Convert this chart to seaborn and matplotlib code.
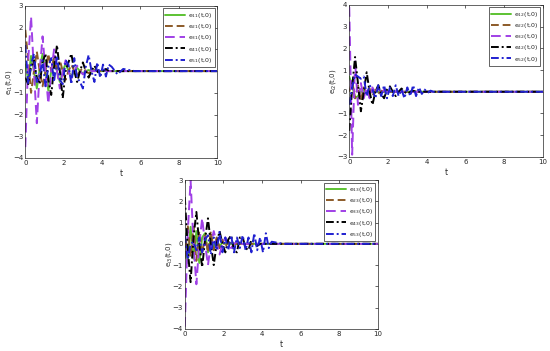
import numpy as np
import pandas as pd
import matplotlib
matplotlib.use("Agg")
import matplotlib.pyplot as plt
import seaborn as sns

# time grid shared by all series (turning points)
T = [0.0, 0.15, 0.3, 0.45, 0.6, 0.75, 0.9, 1.05, 1.2, 1.35,
     1.5, 1.65, 1.8, 1.95, 2.1, 2.25, 2.4, 2.55, 2.7, 2.85,
     3.0, 3.15, 3.3, 3.45, 3.6, 3.75, 3.9, 4.05, 4.2, 4.35,
     4.5, 4.8, 5.1, 5.4, 5.7, 6.0, 10.0]

# panel 1: e_i1(t,0)
e11 = [0.3, -0.4, 0.7, 0.0, -0.8, 0.1, 0.8, 0.0, -0.9, 0.0,
       0.6, 0.0, -0.5, 0.0, 0.35, 0.0, -0.25, 0.0, 0.15, 0.0,
       -0.1, 0.0, 0.05, 0.0, 0.0, 0.0, 0.0, 0.0, 0.0, 0.0,
       0.0, 0.0, 0.0, 0.0, 0.0, 0.0, 0.0]
e21 = [1.9, 0.5, -1.0, 0.0, 0.9, 0.0, -0.7, 0.0, 0.8, 0.0,
       0.65, 0.0, 0.5, 0.0, -0.4, 0.0, 0.3, 0.0, -0.2, 0.0,
       0.15, 0.0, -0.1, 0.0, 0.05, 0.0, 0.0, 0.0, 0.0, 0.0,
       0.0, 0.0, 0.0, 0.0, 0.0, 0.0, 0.0]
e31 = [-3.5, 0.5, 2.5, 0.0, -2.4, 0.0, 1.6, 0.0, -1.5, 0.0,
       1.0, 0.0, -0.8, 0.0, 0.5, 0.0, -0.35, 0.0, 0.25, 0.0,
       -0.15, 0.0, 0.1, 0.0, 0.0, 0.0, 0.0, 0.0, 0.0, 0.0,
       0.0, 0.0, 0.0, 0.0, 0.0, 0.0, 0.0]
e41 = [-0.3, -0.6, 0.2, 0.5, -0.3, -0.6, 0.4, 0.8, -0.4, -1.1,
       0.2, 1.2, 0.0, -1.25, 0.0, 0.4, 0.8, 0.0, -0.5, 0.0,
       0.4, 0.0, -0.3, 0.0, 0.25, 0.0, -0.2, 0.0, 0.1, 0.0,
       0.0, 0.0, 0.0, 0.0, 0.0, 0.0, 0.0]
e51 = [1.2, -0.6, 0.3, 0.8, -0.5, -0.2, 0.5, -0.7, 0.2, 0.6,
       -0.5, 0.7, -0.4, -0.6, 0.5, 0.3, -0.6, 0.6, -0.3, -0.5,
       -0.8, 0.2, 0.74, 0.0, -0.5, 0.4, -0.3, 0.3, -0.25, 0.3,
       0.2, -0.15, 0.1, 0.05, 0.0, 0.0, 0.0]

# panel 2: e_i2(t,0)
e12 = [0.7, 0.3, -0.3, -0.2, 0.0, 0.05, 0.0, 0.0, 0.0, 0.0,
       0.0, 0.0, 0.0, 0.0, 0.0, 0.0, 0.0, 0.0, 0.0, 0.0,
       0.0, 0.0, 0.0, 0.0, 0.0, 0.0, 0.0, 0.0, 0.0, 0.0,
       0.0, 0.0, 0.0, 0.0, 0.0, 0.0, 0.0]
e22 = [0.0, 0.5, -0.3, 0.3, -0.4, 0.2, -0.1, 0.15, -0.2, 0.1,
       -0.1, 0.05, 0.0, 0.0, 0.0, 0.0, 0.0, 0.0, 0.0, 0.0,
       0.0, 0.0, 0.0, 0.0, 0.0, 0.0, 0.0, 0.0, 0.0, 0.0,
       0.0, 0.0, 0.0, 0.0, 0.0, 0.0, 0.0]
e32 = [3.9, -2.9, 1.4, -0.6, 0.4, -0.3, 0.2, -0.3, 0.2, -0.1,
       0.2, -0.1, 0.1, 0.0, 0.0, 0.0, 0.0, 0.0, 0.0, 0.0,
       0.0, 0.0, 0.0, 0.0, 0.0, 0.0, 0.0, 0.0, 0.0, 0.0,
       0.0, 0.0, 0.0, 0.0, 0.0, 0.0, 0.0]
e42 = [-1.8, 0.2, 1.6, 0.4, -0.9, 0.0, 0.9, 0.0, -0.6, 0.0,
       0.3, -0.1, -0.3, 0.1, 0.25, 0.0, -0.2, 0.0, 0.15, 0.0,
       -0.1, 0.0, 0.05, 0.0, 0.0, 0.0, 0.0, 0.0, 0.0, 0.0,
       0.0, 0.0, 0.0, 0.0, 0.0, 0.0, 0.0]
e52 = [-0.6, 0.2, 0.8, 0.7, 0.6, 0.7, -0.2, 0.3, 0.1, -0.3,
       0.3, -0.2, 0.3, -0.3, 0.2, -0.2, 0.3, -0.2, 0.1, -0.3,
       0.2, -0.2, 0.3, -0.2, 0.2, -0.1, 0.1, -0.05, 0.05, 0.0,
       0.0, 0.0, 0.0, 0.0, 0.0, 0.0, 0.0]

# panel 3: e_i3(t,0)
e13 = [0.5, -0.9, 0.8, -0.7, 0.6, -0.9, 0.3, 0.5, -0.4, 0.3,
       -0.2, 0.15, -0.1, 0.05, 0.0, 0.0, 0.0, 0.0, 0.0, 0.0,
       0.0, 0.0, 0.0, 0.0, 0.0, 0.0, 0.0, 0.0, 0.0, 0.0,
       0.0, 0.0, 0.0, 0.0, 0.0, 0.0, 0.0]
e23 = [-0.7, 0.9, -0.6, 0.8, -0.8, 0.6, -0.5, 0.4, -0.4, 0.6,
       -0.3, 0.3, -0.2, 0.2, -0.15, 0.1, 0.0, 0.0, 0.0, 0.0,
       0.0, 0.0, 0.0, 0.0, 0.0, 0.0, 0.0, 0.0, 0.0, 0.0,
       0.0, 0.0, 0.0, 0.0, 0.0, 0.0, 0.0]
e33 = [-3.9, 0.5, 3.0, 0.0, -1.9, 0.0, 1.2, 0.0, -1.0, 0.0,
       0.6, 0.0, -0.5, 0.0, 0.3, 0.0, -0.2, 0.0, 0.1, 0.0,
       0.0, 0.0, 0.0, 0.0, 0.0, 0.0, 0.0, 0.0, 0.0, 0.0,
       0.0, 0.0, 0.0, 0.0, 0.0, 0.0, 0.0]
e43 = [2.2, -0.2, -1.8, 0.3, 1.5, 0.0, -1.1, 0.2, 1.2, 0.0,
       -1.0, 0.0, 0.6, 0.0, -0.4, 0.2, 0.4, -0.3, -0.4, 0.3,
       0.3, -0.2, -0.3, 0.2, 0.1, -0.1, 0.0, 0.0, 0.0, 0.0,
       0.0, 0.0, 0.0, 0.0, 0.0, 0.0, 0.0]
e53 = [0.4, -0.75, 0.0, 0.1, -0.3, 0.3, -0.4, 0.2, 0.4, -0.5,
       0.3, -0.3, 0.56, -0.4, 0.3, -0.3, 0.4, -0.4, 0.3, -0.2,
       0.4, -0.3, 0.3, -0.4, 0.5, -0.3, 0.3, -0.4, 0.5, -0.2,
       0.1, 0.05, 0.0, 0.0, 0.0, 0.0, 0.0]

COLORS = ["#5cc232", "#8c5a28", "#a040e6", "#000000", "#2020d0"]
STYLES = ["-", (0, (4, 2)), (0, (5, 2.5)), (0, (4, 1.5, 1, 1.5)), (0, (4, 1.5, 1, 1.5))]


def draw_panel(ax, series, j, ylim):
    for i, vals in enumerate(series):
        sns.lineplot(x=T, y=vals, ax=ax, color=COLORS[i], linestyle=STYLES[i],
                     linewidth=1.4, estimator=None, sort=False,
                     label=f"e$_{{{i + 1}{j}}}$(t,0)")
    ax.set_xlim(0, 10)
    ax.set_ylim(*ylim)
    ax.set_xticks(range(0, 11, 2))
    ax.set_yticks(range(ylim[0], ylim[1] + 1))
    ax.set_xlabel("t", fontsize=5.5)
    ax.set_ylabel(f"e$_{{i{j}}}$(t,0)", fontsize=5)
    ax.xaxis.set_label_coords(0.5, -0.075)
    ax.yaxis.set_label_coords(-0.058, 0.5)
    ax.tick_params(direction="in", length=2.5, width=0.5, labelsize=5,
                   top=True, right=True, pad=1.5, colors="#262626")
    for sp in ax.spines.values():
        sp.set_visible(True)
        sp.set_linewidth(0.5)
        sp.set_color("#262626")
    leg = ax.legend(loc="upper right", fontsize=4.5, handlelength=3.2,
                    handletextpad=0.4, labelspacing=0.35, borderpad=0.4,
                    fancybox=False, framealpha=1, borderaxespad=0.4)
    leg.get_frame().set_edgecolor("#262626")
    leg.get_frame().set_linewidth(0.5)


sns.set_style("white")
plt.rcParams["font.family"] = ["DejaVu Sans"]

fig = plt.figure(figsize=(5.5, 3.51), dpi=100)
ax1 = fig.add_axes([0.046, 0.550, 0.349, 0.433])
ax2 = fig.add_axes([0.635, 0.553, 0.352, 0.433])
ax3 = fig.add_axes([0.336, 0.063, 0.351, 0.424])

draw_panel(ax1, [e11, e21, e31, e41, e51], 1, (-4, 3))
draw_panel(ax2, [e12, e22, e32, e42, e52], 2, (-3, 4))
draw_panel(ax3, [e13, e23, e33, e43, e53], 3, (-4, 3))

fig.savefig("out.png", dpi=100)
